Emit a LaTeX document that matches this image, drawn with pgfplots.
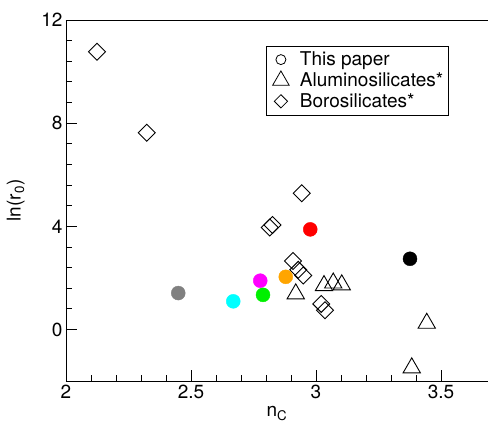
\documentclass[border=0pt]{standalone}
\usepackage{pgfplots}
\pgfplotsset{compat=1.18}
\usepackage{fontspec}
\setmainfont{TeX Gyre Heros}
\definecolor{mycyan}{RGB}{0,255,255}
\definecolor{mymagenta}{RGB}{255,0,255}
\definecolor{mygreen}{RGB}{0,240,0}
\definecolor{myorange}{RGB}{255,165,0}
\definecolor{myred}{RGB}{255,0,0}
\definecolor{mygray}{RGB}{128,128,128}
\begin{document}
\begin{tikzpicture}
\begin{axis}[name=ax, scale only axis, width=422pt, height=361pt,
 xmin=2, xmax=3.688, ymin=-2, ymax=12,
 xtick={2,2.5,3,3.5}, ytick={0,4,8,12},
 minor x tick num=4, minor y tick num=4,
 axis x line=bottom, axis y line=left, axis line style={-, line width=0.9pt},
 tick align=inside, major tick length=11pt, minor tick length=6pt,
 tick style={line width=0.8pt, black},
 tick label style={font=\fontsize{19}{21}\selectfont},
 /pgf/number format/assume math mode=true,
 xlabel={n\textsubscript{C}}, ylabel={ln(r\textsubscript{0})},
 label style={font=\fontsize{19}{21}\selectfont},
 x label style={at={(axis description cs:0.5,-0.0997)}, anchor=base},
 y label style={at={(axis description cs:-0.1073,0.5)}, anchor=base},
 legend style={at={(0.473,0.929)}, anchor=north west, draw=black, line width=0.6pt,
   font=\fontsize{19}{22}\selectfont, row sep=1.5pt, inner xsep=3pt, inner ysep=4pt},
 legend cell align=left,
 legend image code/.code={\path[draw=none] (0pt,0pt) -- (29pt,0pt); \draw[#1, /tikz/only marks] plot coordinates {(12pt,0pt)};},
]
\draw[line width=0.9pt] (rel axis cs:0,1) -- (rel axis cs:1,1);
\addlegendimage{only marks, mark=o, mark size=5pt, black, line width=0.8pt}
\addlegendentry{This paper}
\addlegendimage{only marks, mark=triangle, mark size=9.5pt, black, line width=0.8pt}
\addlegendentry{Aluminosilicates*}
\addlegendimage{only marks, mark=square, mark options={rotate=45}, mark size=4.7pt, black, line width=0.8pt}
\addlegendentry{Borosilicates*}
\addplot[only marks, mark=triangle, mark size=10pt, black, line width=0.9pt, forget plot] coordinates {
(2.919,1.38) (3.032,1.70) (3.069,1.80) (3.103,1.73) (3.443,0.24) (3.383,-1.49)};
\addplot[only marks, mark=square, mark options={rotate=45}, mark size=6pt, black, line width=0.9pt, forget plot] coordinates {
(2.124,10.77) (2.323,7.63) (2.943,5.28) (2.815,3.95) (2.826,4.05) (2.908,2.65) (2.929,2.31) (2.949,2.09) (3.021,0.99) (3.036,0.74)};
\addplot[only marks, mark=*, mark size=7pt, color=mygray, forget plot] coordinates {(2.449,1.41)};
\addplot[only marks, mark=*, mark size=7pt, color=mycyan, forget plot] coordinates {(2.669,1.09)};
\addplot[only marks, mark=*, mark size=7pt, color=mymagenta, forget plot] coordinates {(2.777,1.89)};
\addplot[only marks, mark=*, mark size=7pt, color=mygreen, forget plot] coordinates {(2.788,1.34)};
\addplot[only marks, mark=*, mark size=7pt, color=myorange, forget plot] coordinates {(2.879,2.04)};
\addplot[only marks, mark=*, mark size=7pt, color=myred, forget plot] coordinates {(2.977,3.88)};
\addplot[only marks, mark=*, mark size=7pt, color=black, forget plot] coordinates {(3.376,2.74)};
\end{axis}
\pgfresetboundingbox
\useasboundingbox ([xshift=-66pt,yshift=-42pt]ax.south west) rectangle ([yshift=20pt]ax.north east);
\end{tikzpicture}
\end{document}
